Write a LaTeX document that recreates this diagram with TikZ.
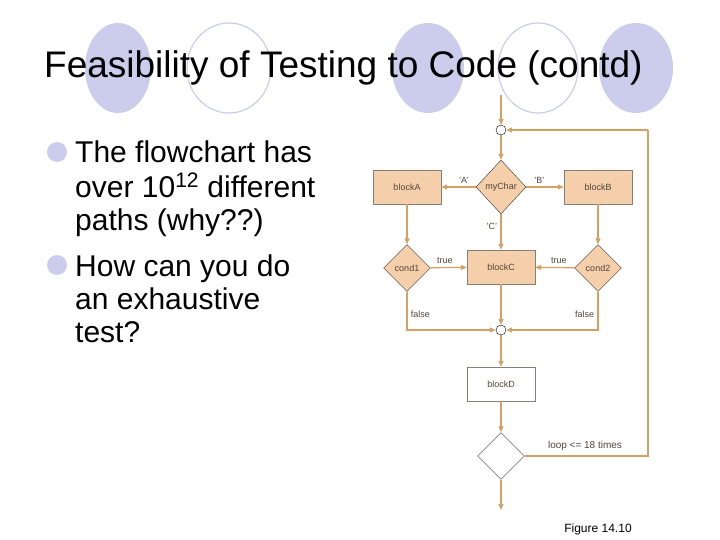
\documentclass[tikz,border=0pt]{standalone}
\usepackage{fontspec}
\setmainfont{Liberation Sans}
\usetikzlibrary{shapes.geometric,arrows.meta}
\definecolor{lav}{RGB}{204,204,236}
\definecolor{org}{RGB}{212,160,100}
\definecolor{peach}{RGB}{245,206,170}
\definecolor{ftxt}{RGB}{80,70,60}
\begin{document}
\begin{tikzpicture}[x=1pt,y=-1pt,
  box/.style={draw=ftxt!70,fill=peach,minimum width=68pt,minimum height=34pt,inner sep=0pt,font=\fontsize{9}{10}\selectfont,text=ftxt},
  dia/.style={diamond,draw=black!80,fill=peach,minimum width=47pt,minimum height=47pt,inner sep=0pt,aspect=1,font=\fontsize{9}{10}\selectfont,text=ftxt},
  junc/.style={circle,draw=black,fill=white,minimum size=10pt,inner sep=0pt},
  lab/.style={font=\fontsize{9}{10}\selectfont,text=ftxt},
  ar/.style={draw=org,line width=1.2pt,-{Triangle[length=6pt,width=5pt]}},
  ln/.style={draw=org,line width=1.2pt}]
\useasboundingbox (0,0) rectangle (720,540);
\fill[white] (0,0) rectangle (720,540);
% decorations
\fill[lav] (118,68) ellipse (33 and 45);
\draw[lav,line width=1.2pt] (229,68) ellipse (42 and 45);
\fill[lav] (428,68) ellipse (36 and 45);
\draw[lav,line width=1.2pt] (538,68) ellipse (40 and 45);
\fill[lav] (636,68) ellipse (37 and 45);
\node[anchor=west,font=\fontsize{37}{40}\selectfont,inner sep=0pt] (title) at (44,68) {Feasibility of Testing to Code (contd)};
% bullets
\fill[lav] (57,152) circle (10);
\fill[lav] (57,265) circle (10);
\begin{scope}[every node/.style={anchor=base west,font=\fontsize{30}{32}\selectfont,inner sep=0pt}]
\node (t1) at (75,163) {The flowchart has};
\node (t2) at (75,197) {over 10\textsuperscript{12} different};
\node (t3) at (75,230) {paths (why??)};
\node (t4) at (75,276) {How can you do};
\node (t5) at (75,309) {an exhaustive};
\node (t6) at (75,342) {test?};
\end{scope}
% flowchart
\coordinate (top) at (501,95);
\node[junc] (j1) at (501,130) {};
\node[dia,minimum width=50pt,minimum height=54pt] (my) at (501,187) {myChar};
\node[box] (A) at (407,187) {blockA};
\node[box] (B) at (598,187) {blockB};
\node[box] (C) at (501,267) {blockC};
\node[dia] (c1) at (407,268) {cond1};
\node[dia] (c2) at (598,268) {cond2};
\node[junc] (j2) at (501,330) {};
\node[box,fill=white] (D) at (501,384) {blockD};
\node[dia,fill=white] (L) at (501,456) {};
\coordinate (out) at (501,510);
\coordinate (r1) at (648,456);
\coordinate (r2) at (648,130);
\draw[ar] (top) -- (j1);
\draw[ar] (j1) -- (my);
\draw[ar] (my) -- node[lab,above,pos=0.35] {'A'} (A);
\draw[ar] (my) -- node[lab,above,pos=0.35] {'B'} (B);
\draw[ar] (my) -- node[lab,left,pos=0.35] {'C'} (C);
\draw[ar] (A) -- (c1);
\draw[ar] (B) -- (c2);
\draw[ar] (c1) -- node[lab,above,pos=0.4] {true} (C);
\draw[ar] (c2) -- node[lab,above,pos=0.4] {true} (C);
\draw[ar] (c1.south) -- node[lab,right,pos=0.6] {false} (407,330) -- (j2);
\draw[ar] (c2.south) -- node[lab,left,pos=0.6] {false} (598,330) -- (j2);
\draw[ar] (C) -- (j2);
\draw[ar] (j2) -- (D);
\draw[ar] (D) -- (L);
\draw[ar] (L) -- (out);
\draw[ln] (L.east) -- (r1) -- (r2);
\draw[ar] (r2) -- (j1);
\node[lab,anchor=base,font=\fontsize{10}{11}\selectfont] (lp) at (585,448) {loop <= 18 times};
\node[anchor=base,font=\fontsize{12}{13}\selectfont] (fig) at (598,532) {Figure 14.10};
\end{tikzpicture}
\end{document}
